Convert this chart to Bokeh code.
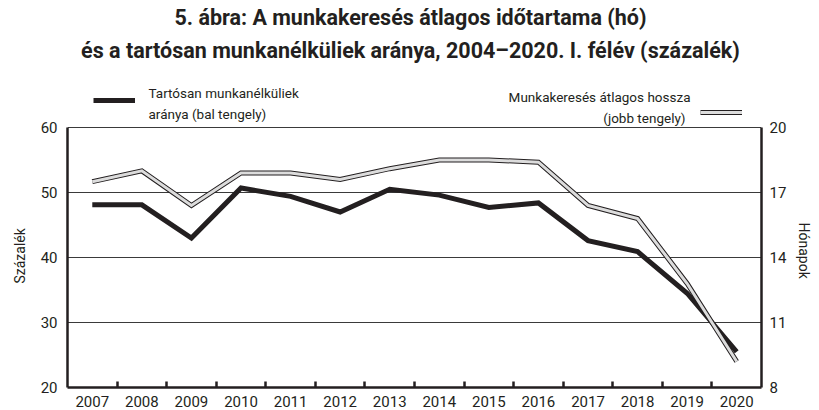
import math
from bokeh.plotting import figure
from bokeh.models import Range1d, LinearAxis, FixedTicker, Label, Legend, LegendItem, Title
from bokeh.core.properties import value
from bokeh.embed import file_html
from bokeh.resources import INLINE

# ---- data ----
years = list(range(2007, 2021))
tartosan = [48.1, 48.1, 43.0, 50.7, 49.4, 47.0, 50.5, 49.6, 47.7, 48.4, 42.6, 40.9, 34.5, 25.5]
hossz = [17.5, 18.0, 16.4, 17.9, 17.9, 17.6, 18.1, 18.5, 18.5, 18.4, 16.4, 15.8, 12.8, 9.2]
left_ticks = [20, 30, 40, 50, 60]
right_ticks = [8, 11, 14, 17, 20]
grid_ticks = [30, 40, 50, 60]
title_lines = ["5. ábra: A munkakeresés átlagos időtartama (hó)",
               "és a tartósan munkanélküliek aránya, 2004–2020. I. félév (százalék)"]
legend_left = ["Tartósan munkanélküliek", "aránya (bal tengely)"]
legend_right = ["Munkakeresés átlagos hossza", "(jobb tengely)"]
left_label = "Százalék"
right_label = "Hónapok"

# ---- layout constants ----
W, H = 819, 410
BL, BR, BT, BB = 67, 53, 0, 23
FH = H - BT - BB            # frame height
Y60 = 127                   # canvas y of the 60 / 20 line
FONT = "Roboto"
INK = "#231f20"

l_lo, l_hi = left_ticks[0], left_ticks[-1]
r_lo, r_hi = right_ticks[0], right_ticks[-1]
frac = FH / (FH - Y60)
y_end = l_lo + (l_hi - l_lo) * frac
r_end = r_lo + (r_hi - r_lo) * frac

p = figure(width=W, height=H, output_backend="svg", toolbar_location=None,
           x_range=Range1d(years[0] - 0.5, years[-1] + 0.5),
           y_range=Range1d(l_lo, y_end),
           min_border_left=BL, min_border_right=BR, min_border_top=BT, min_border_bottom=BB,
           x_axis_location="below")
p.outline_line_color = None
p.background_fill_color = "white"
p.border_fill_color = "white"
p.extra_y_ranges = {"right": Range1d(r_lo, r_end)}

# grid
p.xgrid.visible = False
p.ygrid.ticker = FixedTicker(ticks=grid_ticks)
p.ygrid.grid_line_color = "#3a3a3a"
p.ygrid.grid_line_width = 1

TICK_SIZE = "15px"

# x axis
xa = p.xaxis[0]
xa.ticker = FixedTicker(ticks=years, minor_ticks=[y + 0.5 for y in years[:-1]])
xa.major_tick_line_color = None
xa.minor_tick_in = 6
xa.minor_tick_out = 0
xa.minor_tick_line_width = 2.5
xa.minor_tick_line_color = INK
xa.axis_line_width = 2.5
xa.axis_line_color = INK
xa.major_label_standoff = 2
xa.major_label_text_font = FONT
xa.major_label_text_font_size = TICK_SIZE
xa.major_label_text_color = INK

# left axis
ya = p.yaxis[0]
ya.ticker = FixedTicker(ticks=left_ticks)
ya.bounds = (l_lo, l_hi)
ya.major_tick_in = 0
ya.major_tick_out = 0
ya.minor_tick_line_color = None
ya.axis_line_width = 2.5
ya.axis_line_color = INK
ya.major_label_standoff = 10
ya.major_label_text_font = FONT
ya.major_label_text_font_size = TICK_SIZE
ya.major_label_text_color = INK

# right axis
ra = LinearAxis(y_range_name="right", ticker=FixedTicker(ticks=right_ticks), bounds=(r_lo, r_hi))
ra.major_tick_in = 0
ra.major_tick_out = 0
ra.minor_tick_line_color = None
ra.axis_line_width = 2.5
ra.axis_line_color = INK
ra.major_label_standoff = 8
ra.major_label_text_font = FONT
ra.major_label_text_font_size = TICK_SIZE
ra.major_label_text_color = INK
p.add_layout(ra, "right")

# axis titles, anchored by their start so they sit beside the bounded axes
p.add_layout(Title(text=left_label, align="left", offset=FH - 283, standoff=19,
                   text_font=FONT, text_font_size="14px", text_font_style="normal",
                   text_color=INK), "left")
p.add_layout(Title(text=right_label, align="left", offset=222, standoff=12,
                   text_font=FONT, text_font_size="14px", text_font_style="normal",
                   text_color=INK), "right")

# series
r_black = p.line(years, tartosan, line_color=INK, line_width=5, line_join="miter")
r_g1 = p.line(years, hossz, y_range_name="right", line_color=INK, line_width=5, line_join="miter")
r_g2 = p.line(years, hossz, y_range_name="right", line_color="#dcdcdc", line_width=3, line_join="miter")

# legends (swatches)
def swatch(renderers, loc):
    lg = Legend(items=[LegendItem(label=value(""), renderers=renderers)], location=loc,
                glyph_width=42, glyph_height=10, label_standoff=0, label_width=0,
                padding=0, margin=0, spacing=0, border_line_alpha=0, background_fill_alpha=0,
                label_text_font_size="1px")
    p.add_layout(lg, "center")

swatch([r_black], (26, FH - 105))
swatch([r_g1, r_g2], (633, FH - 117))

def lab(text, x, y, size, align="left", bold=False, baseline="alphabetic"):
    p.add_layout(Label(text=text, x=x, y=y, x_units="screen", y_units="screen",
                       text_font=FONT, text_font_size=size, text_align=align,
                       text_baseline=baseline, text_color=INK,
                       text_font_style="bold" if bold else "normal"))

LEG_SIZE = "13.5px"
lab(legend_left[0], 81, FH - 92, LEG_SIZE)
lab(legend_left[1], 81, FH - 113, LEG_SIZE)
lab(legend_right[0], 623, FH - 96, LEG_SIZE, align="right")
lab(legend_right[1], 618, FH - 117, LEG_SIZE, align="right")

lab(title_lines[0], 410 - BL, FH - 17, "21.5px", align="center", bold=True, baseline="middle")
lab(title_lines[1], 410 - BL, FH - 50, "21.5px", align="center", bold=True, baseline="middle")

open("out.html", "w").write(file_html(p, INLINE))
